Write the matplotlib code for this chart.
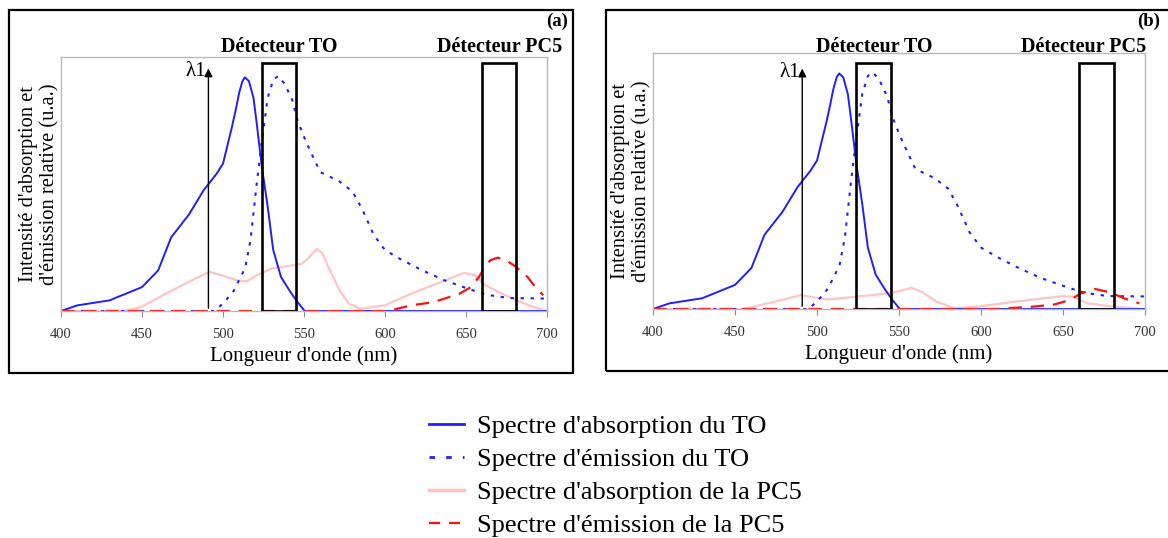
import numpy as np
import matplotlib
matplotlib.use("Agg")
from matplotlib import pyplot as plt
from matplotlib.patches import Rectangle
from matplotlib.lines import Line2D
from matplotlib.transforms import blended_transform_factory

plt.rcParams['font.family'] = ['Liberation Serif', 'DejaVu Serif']

## spectres du TO (identiques pour les deux panneaux)
abs_to_x = [400, 410, 430, 450, 460, 468, 479, 488, 496, 500, 505.5, 507.8, 510, 512, 513.5, 516, 518.8, 520.6, 524, 527.6, 531, 535.8, 541.6, 546, 550.5, 600, 700]
abs_to_y = [0, 0.022, 0.042, 0.094, 0.16, 0.29, 0.38, 0.475, 0.54, 0.58, 0.724, 0.79, 0.86, 0.905, 0.92, 0.905, 0.84, 0.75, 0.567, 0.41, 0.24, 0.134, 0.075, 0.035, 0, 0, 0]

em_to_x = [400, 495, 500.8, 506.7, 513.7, 517, 520.6, 524, 527.6, 531, 534, 538, 542.8, 546, 551, 556.8, 560, 572, 580, 586, 593, 600, 609, 623, 637, 653, 662.7, 676.7, 700]
em_to_y = [0, 0, 0.035, 0.08, 0.17, 0.28, 0.49, 0.67, 0.84, 0.91, 0.925, 0.895, 0.83, 0.75, 0.67, 0.59, 0.547, 0.51, 0.47, 0.40, 0.30, 0.24, 0.206, 0.16, 0.12, 0.084, 0.064, 0.051, 0.049]

## PC5, panneau (a)
abs_pc5_a_x = [400, 439, 449.6, 464.8, 478.7, 491.5, 499.7, 509, 514.8, 520.6, 530, 540.4, 548.6, 553, 558, 561.4, 566, 572, 577.7, 584.7, 600, 616, 637, 648.8, 655.7, 660.4, 672, 686, 697.7, 700]
abs_pc5_a_y = [0, 0, 0.016, 0.068, 0.114, 0.154, 0.14, 0.12, 0.117, 0.14, 0.167, 0.177, 0.186, 0.21, 0.245, 0.226, 0.16, 0.08, 0.029, 0.009, 0.022, 0.068, 0.12, 0.15, 0.14, 0.108, 0.068, 0.029, 0.003, 0]

em_pc5_a_x = [400, 602, 616, 630, 646, 653, 658, 661.5, 665, 669.7, 675.5, 681, 688, 692.8, 697.7]
em_pc5_a_y = [0, 0, 0.022, 0.035, 0.068, 0.094, 0.134, 0.173, 0.2, 0.21, 0.197, 0.173, 0.134, 0.094, 0.062]

## PC5, panneau (b)
abs_pc5_b_x = [400, 455, 470, 490, 506, 523.9, 541.8, 550.8, 557.5, 564, 573, 584, 598, 620, 649.5, 656, 665, 681, 699, 700]
abs_pc5_b_y = [0, 0, 0.022, 0.054, 0.037, 0.048, 0.06, 0.07, 0.083, 0.067, 0.028, 0.003, 0.009, 0.028, 0.05, 0.048, 0.022, 0.009, 0, 0]

em_pc5_b_x = [400, 609, 631.5, 645, 654, 661, 669.7, 678.7, 687.6, 696.6]
em_pc5_b_y = [0, 0, 0.009, 0.018, 0.035, 0.061, 0.078, 0.065, 0.041, 0.022]

xticks = [400, 450, 500, 550, 600, 650, 700]
det_to = (524, 545)
det_pc5 = (660, 681)
lambda1 = 491

legend_labels = ["Spectre d'absorption du TO", "Spectre d'émission du TO",
                 "Spectre d'absorption de la PC5", "Spectre d'émission de la PC5"]

fig = plt.figure(figsize=(11.68, 5.38), dpi=100)

def panel(rect, pc5_abs, pc5_em, box_top, label_x):
    ax = fig.add_axes(rect)
    ax.plot(pc5_abs[0], pc5_abs[1], color='#ffc4c4', lw=1.6)
    ax.plot(em_to_x, em_to_y, color='#1f1fff', lw=1.5, ls=(0, (1.6, 3.2)))
    ax.plot(abs_to_x, abs_to_y, color='#1f1fff', lw=1.4)
    ax.plot(pc5_em[0], pc5_em[1], color='#ff1010', lw=1.6, ls=(0, (6, 4)))
    for (x0, x1) in (det_to, det_pc5):
        ax.add_patch(Rectangle((x0, 0), x1 - x0, box_top, fill=False, ec='black', lw=1.9, zorder=5))
    ax.annotate('', xy=(lambda1, box_top - 0.01), xytext=(lambda1, 0),
                arrowprops=dict(arrowstyle='-|>', color='black', lw=1.0, mutation_scale=12), zorder=6)
    ax.text(lambda1 - 1.5, box_top - 0.035, 'λ1', ha='right', va='center', fontsize=15)
    ax.set_xlim(400, 700)
    ax.set_ylim(0, 1)
    ax.set_xticks(xticks)
    ax.set_yticks([])
    ax.tick_params(axis='x', direction='out', length=4, color='#909090', labelsize=10.5, labelcolor='#333333', pad=8)
    for s in ax.spines.values():
        s.set_color('#b8b8b8')
        s.set_linewidth(1.0)
    ax.set_xlabel("Longueur d'onde (nm)", fontsize=15, labelpad=4)
    ax.set_ylabel("Intensité d'absorption et\nd'émission relative (u.a.)", fontsize=14.8, labelpad=1, linespacing=1.2)
    # titres des détecteurs, x en nm, y en fraction de la figure
    tr = blended_transform_factory(ax.transData, fig.transFigure)
    for lx, txt in zip(label_x, ('Détecteur TO', 'Détecteur PC5')):
        ax.text(lx, 1 - 47/538, txt, ha='center', va='center', fontsize=14.5, fontweight='bold', transform=tr)
    return ax

ax1 = panel([61/1168, 1 - 311/538, 486/1168, 254/538], (abs_pc5_a_x, abs_pc5_a_y), (em_pc5_a_x, em_pc5_a_y), 0.976, (534.5, 670.5))
ax2 = panel([653/1168, 1 - 309/538, 492/1168, 256/538], (abs_pc5_b_x, abs_pc5_b_y), (em_pc5_b_x, em_pc5_b_y), 0.96, (535, 662.5))

# cadres extérieurs
fig.patches.append(Rectangle((9/1168, 1 - 373/538), 564/1168, 363/538, transform=fig.transFigure, fill=False, ec='black', lw=1.6))
fig.patches.append(Rectangle((606/1168, 1 - 371/538), 570/1168, 361/538, transform=fig.transFigure, fill=False, ec='black', lw=1.6))
fig.text(568/1168, 1 - 26/538, '(a)', ha='right', va='baseline', fontsize=13.5, fontweight='bold')
fig.text(1160/1168, 1 - 26/538, '(b)', ha='right', va='baseline', fontsize=13.5, fontweight='bold')

handles = [Line2D([], [], color='#1f1fff', lw=2),
           Line2D([], [], color='#1f1fff', lw=2, ls=(0, (2, 4))),
           Line2D([], [], color='#ffc0c0', lw=2.5),
           Line2D([], [], color='#ff1010', lw=1.6, ls=(0, (5, 4)))]
fig.legend(handles, legend_labels, loc='center', bbox_to_anchor=(0.527, 1 - 476/538), frameon=False,
           fontsize=19, handlelength=1.3, labelspacing=0.36, handletextpad=0.5)

fig.savefig('out.png', dpi=100)
